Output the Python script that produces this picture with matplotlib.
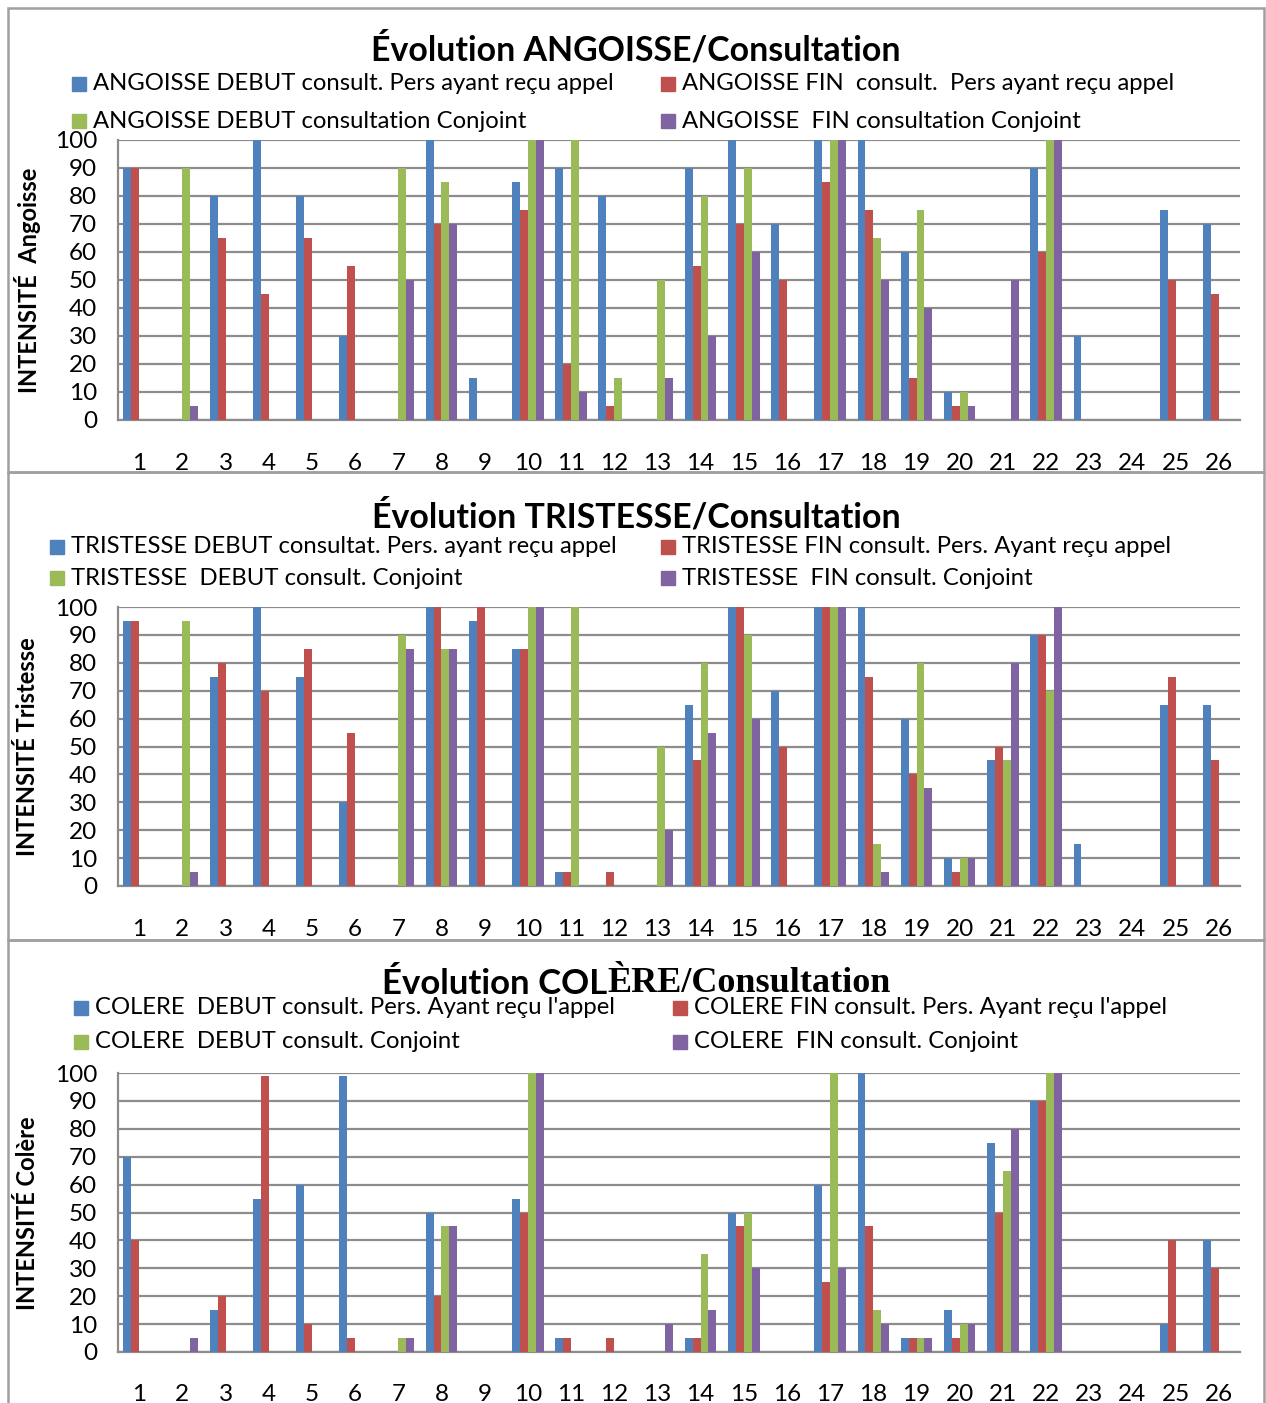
import matplotlib.pyplot as plt
import matplotlib.patches as mpatches
import numpy as np

# patients 1..26
patients = [str(i) for i in range(1, 27)]

# ANGOISSE
ang_debut_pers = [90, 0, 80, 100, 80, 30, 0, 100, 15, 85, 90, 80, 0, 90, 100, 70, 100, 100, 60, 10, 0, 90, 30, 0, 75, 70]
ang_fin_pers = [90, 0, 65, 45, 65, 55, 0, 70, 0, 75, 20, 5, 0, 55, 70, 50, 85, 75, 15, 5, 0, 60, 0, 0, 50, 45]
ang_debut_conj = [0, 90, 0, 0, 0, 0, 90, 85, 0, 100, 100, 15, 50, 80, 90, 0, 100, 65, 75, 10, 0, 100, 0, 0, 0, 0]
ang_fin_conj = [0, 5, 0, 0, 0, 0, 50, 70, 0, 100, 10, 0, 15, 30, 60, 0, 100, 50, 40, 5, 50, 100, 0, 0, 0, 0]

# TRISTESSE
tri_debut_pers = [95, 0, 75, 100, 75, 30, 0, 100, 95, 85, 5, 0, 0, 65, 100, 70, 100, 100, 60, 10, 45, 90, 15, 0, 65, 65]
tri_fin_pers = [95, 0, 80, 70, 85, 55, 0, 100, 100, 85, 5, 5, 0, 45, 100, 50, 100, 75, 40, 5, 50, 90, 0, 0, 75, 45]
tri_debut_conj = [0, 95, 0, 0, 0, 0, 90, 85, 0, 100, 100, 0, 50, 80, 90, 0, 100, 15, 80, 10, 45, 70, 0, 0, 0, 0]
tri_fin_conj = [0, 5, 0, 0, 0, 0, 85, 85, 0, 100, 0, 0, 20, 55, 60, 0, 100, 5, 35, 10, 80, 100, 0, 0, 0, 0]

# COLERE
col_debut_pers = [70, 0, 15, 55, 60, 99, 0, 50, 0, 55, 5, 0, 0, 5, 50, 0, 60, 100, 5, 15, 75, 90, 0, 0, 10, 40]
col_fin_pers = [40, 0, 20, 99, 10, 5, 0, 20, 0, 50, 5, 5, 0, 5, 45, 0, 25, 45, 5, 5, 50, 90, 0, 0, 40, 30]
col_debut_conj = [0, 0, 0, 0, 0, 0, 5, 45, 0, 100, 0, 0, 0, 35, 50, 0, 100, 15, 5, 10, 65, 100, 0, 0, 0, 0]
col_fin_conj = [0, 5, 0, 0, 0, 0, 5, 45, 0, 100, 0, 0, 10, 15, 30, 0, 30, 10, 5, 10, 80, 100, 0, 0, 0, 0]

colors = ['#4F81BD', '#C0504D', '#9BBB59', '#8064A2']
grid_col = '#8C8C8C'

plt.rcParams['font.family'] = ['Lato', 'DejaVu Sans']

W, H = 1266, 1403
fig = plt.figure(figsize=(W / 100, H / 100), dpi=100)


def fx(px):
    return px / W


def fy(py):
    return 1 - py / H


def draw_panel(top, bottom, title, title_y, ylabel, ylabel_y, labels, series,
               leg_x, leg_rows, ticklabel_y):
    ax = fig.add_axes([fx(118), fy(bottom), fx(1240) - fx(118), (bottom - top) / H])
    x = np.arange(len(patients))
    w = 0.182
    for k, vals in enumerate(series):
        ax.bar(x + (k - 1.5) * w, vals, width=w, color=colors[k], zorder=3)
    ax.set_xlim(-0.49, 25.49)
    ax.set_ylim(0, 100)
    ax.set_yticks(np.arange(0, 101, 10))
    ax.set_xticks(x)
    ax.set_xticklabels(patients)
    ax.yaxis.grid(True, color=grid_col, lw=1.6, zorder=0)
    ax.set_axisbelow(True)
    for s in ['top', 'right']:
        ax.spines[s].set_visible(False)
    ax.spines['left'].set_color(grid_col)
    ax.spines['left'].set_linewidth(1.6)
    ax.spines['bottom'].set_color(grid_col)
    ax.spines['bottom'].set_linewidth(1.6)
    ax.tick_params(axis='both', length=0, labelsize=17.5)
    ax.tick_params(axis='y', pad=15)
    ax.tick_params(axis='x', pad=(ticklabel_y - bottom - 9) * 0.72)

    fig.text(fx(28), fy(ylabel_y), ylabel, rotation=90, ha='center', va='center',
             fontsize=17, fontweight='bold')
    if title is not None:
        fig.text(fx(636), fy(title_y), title, ha='center', va='center',
                 fontsize=24.4, fontweight='bold')

    for i, lab in enumerate(labels):
        col = i % 2
        row = i // 2
        sx = leg_x[col]
        sy = leg_rows[row]
        fig.add_artist(mpatches.Rectangle((fx(sx - 21), fy(sy + 7)), 14 / W, 14 / H,
                                          transform=fig.transFigure, color=colors[i]))
        fig.text(fx(sx), fy(sy), lab, ha='left', va='center', fontsize=17.2)
    return ax


draw_panel(140, 420, 'Évolution ANGOISSE/Consultation', 50, 'INTENSITÉ  Angoisse', 280,
           ['ANGOISSE DEBUT consult. Pers ayant reçu appel',
            'ANGOISSE FIN  consult.  Pers ayant reçu appel',
            'ANGOISSE DEBUT consultation Conjoint',
            'ANGOISSE  FIN consultation Conjoint'],
           [ang_debut_pers, ang_fin_pers, ang_debut_conj, ang_fin_conj],
           [93, 682], [84, 121], 462)

draw_panel(607, 886, 'Évolution TRISTESSE/Consultation', 517, 'INTENSITÉ Tristesse', 747,
           ['TRISTESSE DEBUT consultat. Pers. ayant reçu appel',
            'TRISTESSE FIN consult. Pers. Ayant reçu appel',
            'TRISTESSE  DEBUT consult. Conjoint',
            'TRISTESSE  FIN consult. Conjoint'],
           [tri_debut_pers, tri_fin_pers, tri_debut_conj, tri_fin_conj],
           [71, 682], [547, 578], 928)

draw_panel(1073, 1352, None, 984, 'INTENSITÉ Colère', 1213,
           ["COLERE  DEBUT consult. Pers. Ayant reçu l'appel",
            "COLERE FIN consult. Pers. Ayant reçu l'appel",
            'COLERE  DEBUT consult. Conjoint',
            'COLERE  FIN consult. Conjoint'],
           [col_debut_pers, col_fin_pers, col_debut_conj, col_fin_conj],
           [95, 694], [1008, 1042], 1393)

# mixed-font title of the third chart
renderer = fig.canvas.get_renderer()
t1 = fig.text(0, fy(984), 'Évolution COL', ha='left', va='center',
              fontsize=25, fontweight='bold')
t2 = fig.text(0, fy(984), 'ÈRE/Consultation', ha='left', va='center',
              fontsize=26, fontweight='bold', family='Liberation Serif')
w1 = t1.get_window_extent(renderer).width
w2 = t2.get_window_extent(renderer).width
x0 = 636 - (w1 + w2) / 2
t1.set_x(fx(x0))
t2.set_x(fx(x0 + w1))

# panel borders
for top, bot in [(8, 472), (472, 940), (940, 1410)]:
    fig.add_artist(mpatches.Rectangle((fx(8), fy(bot)), fx(1264) - fx(8), (bot - top) / H,
                                      transform=fig.transFigure, fill=False,
                                      edgecolor='#A0A0A0', lw=1.8))

fig.savefig('out.png', dpi=100)
